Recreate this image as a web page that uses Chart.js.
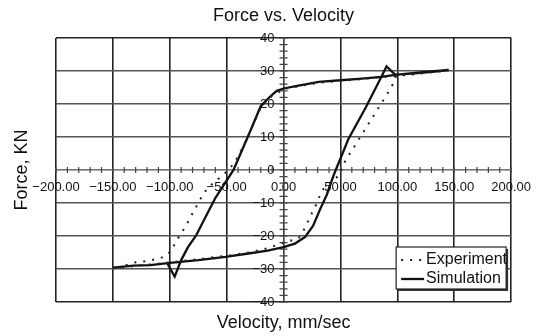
<!DOCTYPE html>
<html>
<head>
<meta charset="utf-8">
<script src="https://cdn.jsdelivr.net/npm/chart.js@4.4.1/dist/chart.umd.min.js"></script>
<style>
  body { margin: 0; background: #fff; }
  #wrap { width: 541px; height: 336px; }
</style>
</head>
<body>
<div id="wrap"><canvas id="graf"></canvas></div>
<script>
// force / velocity loop, velocity in mm/sec, force in KN
const simVelocity = [-150, -132, -117, -102, -75, -51, -31, -14, 0, 10, 19, 26, 32, 38, 44, 57, 72, 83, 90.5, 98,
  115, 133, 145, 120, 98, 86, 69, 50, 31, 12, 0, -6, -12, -20, -31, -44, -60, -77, -84, -90, -95.7, -102.4];
const simForce = [-29.6, -29.0, -28.8, -28.2, -27.3, -26.3, -25.3, -24.4, -23.4, -22.3, -20.3, -16.9, -12.0, -7.5, -1.6, 9.4, 18.8, 26.2, 31.4, 28.9,
  29.3, 29.8, 30.3, 29.6, 28.8, 28.2, 27.7, 27.2, 26.7, 25.5, 24.7, 24.0, 22.2, 19.4, 10.4, 0, -8.5, -19.9, -23.4, -27.3, -32.3, -28.2];

const expVelocity = [-150, -125, -100, -75, -50, -30, -15, -5, 5, 13, 17.5, 21, 25, 28, 31, 34, 40, 46, 50, 52,
  95, 99, 115, 130, 145, 100, 70, 50, 30, 12, 0, -12, -20, -31, -40, -46, -53, -62, -70, -74,
  -78, -82, -85, -89, -93, -97.5, -102, -109, -116, -124, -131, -140, -148];
const expForce = [-29.8, -28.9, -28.0, -27.0, -26.0, -25.0, -23.8, -22.6, -21.5, -20.8, -18.4, -15.9, -13.0, -11.0, -8.5, -6.1, -4.2, -2.5, -1.0, 1.5,
  25.2, 28.5, 29.0, 29.6, 30.2, 28.6, 27.6, 27.0, 26.4, 25.3, 24.5, 22.0, 19.0, 10.4, 4.0, 1.0, -1.5, -4.0, -6.9, -9.4,
  -11.9, -14.4, -16.4, -18.7, -20.8, -23.6, -25.8, -26.8, -27.3, -27.8, -28.0, -29.0, -29.6];

const velTicks = [-200, -150, -100, -50, 0, 50, 100, 150, 200];
const forceTicks = [-40, -30, -20, -10, 0, 10, 20, 30, 40];
const velMinorStep = 10;
const forceMinorStep = 2;

const fontFam = "'Liberation Sans', Arial, sans-serif";
const ink = '#111';

function fmt(v, d) {
  return (v < 0 ? '\u2212' : '') + Math.abs(v).toFixed(d);
}
function pts(xs, ys) {
  return xs.map((v, i) => ({ x: v, y: ys[i] }));
}

// small ticks along both zero axes
const minorTicks = {
  id: 'minorTicks',
  beforeDatasetsDraw(chart) {
    const { ctx, scales: { x, y } } = chart;
    const x0 = x.getPixelForValue(0), y0 = y.getPixelForValue(0);
    ctx.save();
    ctx.lineWidth = 1.2;
    ctx.strokeStyle = '#444';
    ctx.beginPath();
    for (let v = x.min; v <= x.max; v += velMinorStep) {
      const px = x.getPixelForValue(v);
      ctx.moveTo(px, y0 - 3);
      ctx.lineTo(px, y0 + 3);
    }
    for (let f = y.min; f <= y.max; f += forceMinorStep) {
      const py = y.getPixelForValue(f);
      ctx.moveTo(x0 - 4, py);
      ctx.lineTo(x0 + 4, py);
    }
    ctx.stroke();
    ctx.restore();
  }
};

// boxed legend in the lower right corner
const legendBox = {
  id: 'legendBox',
  afterDraw(chart) {
    const { ctx, chartArea } = chart;
    const w = 110, h = 42;
    const left = chartArea.right - 5 - w;
    const top = chartArea.bottom - 13 - h;
    ctx.save();
    ctx.fillStyle = '#333';
    ctx.fillRect(left + 2, top + 2, w, h);
    ctx.fillStyle = '#fff';
    ctx.fillRect(left, top, w, h);
    ctx.lineWidth = 1.2;
    ctx.strokeStyle = '#222';
    ctx.strokeRect(left, top, w, h);
    ctx.font = '16px ' + fontFam;
    ctx.textBaseline = 'middle';
    chart.data.datasets.forEach((ds, i) => {
      const cy = top + 13 + i * 19;
      ctx.beginPath();
      ctx.setLineDash(ds.borderDash || []);
      ctx.lineWidth = ds.borderWidth;
      ctx.strokeStyle = ds.borderColor;
      ctx.moveTo(left + 5, cy);
      ctx.lineTo(left + 28, cy);
      ctx.stroke();
      ctx.setLineDash([]);
      ctx.fillStyle = ink;
      ctx.fillText(ds.label, left + 30, cy);
    });
    ctx.restore();
  }
};

const tickFont = { family: fontFam, size: 13 };
const titleFont = { family: fontFam, size: 18, weight: 'normal' };

// label-only axes around the plot, so the titles sit outside the centred axes
function titleAxis(pos, text, pad) {
  return {
    type: 'linear',
    position: pos,
    display: true,
    grid: { display: false, drawTicks: false },
    border: { display: false },
    ticks: { display: false },
    title: { display: true, text: text, color: ink, font: titleFont, padding: pad }
  };
}

const ctx = document.querySelector('#graf').getContext('2d');
const graf = new Chart(ctx, {
  type: 'scatter',
  data: {
    datasets: [{
      label: 'Experiment',
      data: pts(expVelocity, expForce),
      showLine: true,
      borderColor: '#222',
      borderWidth: 2,
      borderDash: [2, 7],
      pointRadius: 0,
      xAxisID: 'x',
      yAxisID: 'y'
    }, {
      label: 'Simulation',
      data: pts(simVelocity, simForce),
      showLine: true,
      borderColor: '#111',
      borderWidth: 2.3,
      borderJoinStyle: 'miter',
      pointRadius: 0,
      xAxisID: 'x',
      yAxisID: 'y'
    }]
  },
  options: {
    responsive: true,
    maintainAspectRatio: false,
    animation: false,
    layout: { padding: { left: 0, right: 27.5, top: 0, bottom: 0 } },
    plugins: {
      legend: { display: false },
      tooltip: { enabled: false }
    },
    scales: {
      x: {
        type: 'linear',
        position: { y: 0 },
        min: -200,
        max: 200,
        afterBuildTicks: s => { s.ticks = velTicks.map(v => ({ value: v })); },
        ticks: { callback: v => fmt(v, 2), font: tickFont, color: ink, padding: 10, autoSkip: false, maxRotation: 0 },
        grid: { color: c => c.tick && c.tick.value === 0 ? '#444' : '#222', lineWidth: 1.6, drawTicks: false },
        border: { color: '#777', width: 1.2 }
      },
      y: {
        type: 'linear',
        position: { x: 0 },
        min: -40,
        max: 40,
        afterBuildTicks: s => { s.ticks = forceTicks.map(v => ({ value: v })); },
        // centred y labels hug the axis, the trailing spaces keep a gap
        ticks: { callback: v => fmt(v, 0) + '\u2002\u2009', font: tickFont, color: ink, autoSkip: false },
        grid: {
          color: c => {
            const v = c.tick && c.tick.value;
            if (v === 40 || v === -40) return '#222';
            return v === 0 ? '#777' : '#555';
          },
          lineWidth: 1.6,
          drawTicks: false
        },
        border: { color: '#444', width: 1.2 }
      },
      xTop: titleAxis('top', 'Force vs. Velocity', { top: 5.2, bottom: 11.2 }),
      xBottom: titleAxis('bottom', 'Velocity, mm/sec', { top: 10.2, bottom: 2.2 }),
      yLeft: titleAxis('left', 'Force, KN', { top: 11.2, bottom: 23.2 })
    }
  },
  plugins: [minorTicks, legendBox]
});
</script>
</body>
</html>
